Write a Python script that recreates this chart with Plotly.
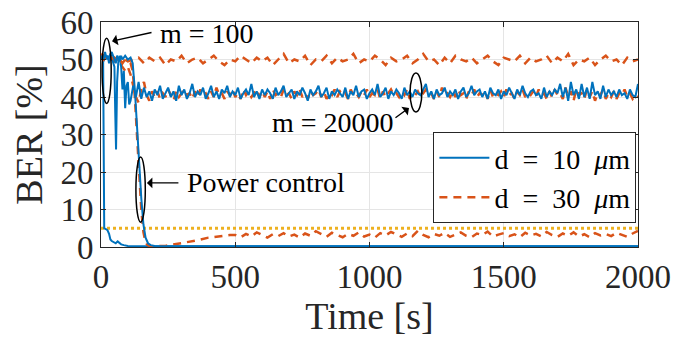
import plotly.graph_objects as go

# ---------------- data ----------------
# d = 10 um, m = 100 (fast drop)
t_b100 = [0, 5, 8, 12, 18, 24, 30, 35, 40, 48, 55, 62, 68, 75, 85, 100, 130, 200, 400, 800, 1200, 1600, 2000]
y_b100 = [50, 51, 49.5, 5, 4.8, 4.5, 3.5, 2.0, 1.6, 1.2, 1.0, 1.5, 1.1, 0.7, 0.5, 0.3, 0.2, 0.2, 0.2, 0.2, 0.2, 0.2, 0.2]

# d = 10 um, m = 20000
t_b2e4_early = [0, 5, 10, 15, 20, 25, 30, 35, 40, 45, 50, 53, 56, 60, 65, 70, 75, 80, 85, 90, 95, 100, 105]
y_b2e4_early = [50, 51, 49.5, 51.5, 50, 51, 49, 51.5, 50.5, 49, 48, 36, 26, 44, 50, 51, 48, 42, 47, 37, 43, 44, 38]
y_b2e4_late = [  # t = 110 ... 2000, step 10
    39, 43, 40, 44, 39.5, 42.5, 40, 41.5, 39, 42,
    40.5, 43, 39.5, 41, 42.5, 40, 41.5, 39, 43, 40.5,
    42, 39.5, 41, 43.5, 40, 41.5, 40.5, 42.5, 39.5, 41,
    43, 40, 41.5, 39.5, 42, 41, 43, 40, 41.5, 40.5,
    42.5, 39.5, 41, 42, 40.5, 43.5, 40, 41.5, 39.5, 42,
    40.5, 42, 41, 39.5, 42.5, 40.5, 41.5, 43, 40, 41,
    42, 39.5, 41.5, 40.5, 42.5, 41, 39, 42, 40.5, 41.5,
    43, 40, 41, 42.5, 39.5, 41.5, 40.5, 42, 41, 40,
    42.5, 39.5, 41.5, 40.5, 43, 40, 41.5, 42, 39.5, 41,
    42, 40.5, 43.5, 40, 41, 42.5, 39.5, 41.5, 40.5, 42,
    41, 39.5, 42.5, 40.5, 41.5, 40, 42, 41, 40.5, 42,
    43.5, 40, 41.5, 39.5, 42, 40.5, 41, 42.5, 40, 41.5,
    40.5, 42, 39.5, 41.5, 42.5, 40, 41, 43, 40.5, 41.5,
    42, 40, 41.5, 39.5, 42.5, 41, 40.5, 42, 39.5, 41.5,
    40.5, 42.5, 41, 39.5, 42, 40.5, 43, 41, 40, 41.5,
    42, 40.5, 41, 39.5, 42.5, 40, 41.5, 40.5, 42, 41,
    43.5, 40, 42.5, 39, 44, 40.5, 42, 39.5, 43.5, 40,
    42.5, 39.5, 44, 40.5, 41.5, 39.5, 43, 40, 42, 40.5,
    41.5, 40, 42, 40.5, 41, 39.5, 42, 40.5, 40, 43.5,
]

# d = 10 um, power control
t_bpc = [0, 5, 10, 15, 20, 25, 30, 35, 40, 45, 50, 55, 60, 65, 70, 75, 80, 90, 100, 110, 118, 126, 134, 142, 150, 158, 166, 175, 185, 200, 300, 600, 1000, 1500, 2000]
y_bpc = [50, 51, 50, 52, 50.5, 51, 50, 51.5, 52, 51, 50, 49, 51, 50, 49.5, 51, 50, 51, 50, 50.5, 49, 42, 32, 22, 13, 6, 2.5, 1.0, 0.5, 0.3, 0.2, 0.2, 0.2, 0.2, 0.2]

# d = 30 um, m = 100 (t = 0 ... 2000 step 20)
y_o100 = [
    51.5, 50.5, 51, 50, 50.5, 49.5, 50, 50.5, 49, 50.5,
    49.5, 50.5, 48.5, 50, 49.5, 51, 49, 50, 50.5, 49,
    50, 51, 49.5, 48.5, 50, 49.5, 51, 50, 49, 50.5,
    49.5, 50.5, 48.5, 50, 51.5, 49, 50, 49.5, 51, 48.5,
    50, 49.5, 51, 49, 50.5, 49.5, 50, 51.5, 49, 50,
    49.5, 51, 50, 48.5, 50.5, 49.5, 50, 51, 49, 50,
    51.5, 49.5, 50, 48.5, 50.5, 49, 51, 50, 49.5, 50.5,
    49, 50, 51, 49.5, 48.5, 50.5, 50, 49.5, 51, 49,
    50.5, 49.5, 50, 51, 49, 50.5, 49.5, 51.5, 48.5, 50,
    49.5, 50.5, 48.5, 50, 51, 49.5, 50, 48.5, 50.5, 49.5,
    50,
]

# d = 30 um, m = 20000
t_o2e4_early = [0, 10, 20, 30, 40, 50, 60, 70, 80, 90, 100, 110, 120, 130, 140, 150, 160, 170, 180, 190, 200]
y_o2e4_early = [51, 50, 51, 50.5, 50, 49.5, 50, 49, 48, 47, 48, 46, 43, 40, 38.5, 42, 44, 40.5, 39, 41.5, 40]
y_o2e4_late = [  # t = 210 ... 2000, step 10
    41.5, 39.5, 41, 40, 42, 40.5, 39, 41.5, 40, 41,
    42, 40.5, 41, 39.5, 41.5, 40, 42, 40.5, 41, 39.5,
    41.5, 40, 42.5, 40.5, 41, 39.5, 41.5, 40.5, 42, 40,
    41, 39.5, 42, 40.5, 41.5, 40, 41, 42, 40, 41.5,
    40, 41.5, 39.5, 42, 40.5, 41, 40, 42, 40.5, 41,
    39.5, 41.5, 40.5, 42, 40, 41, 39.5, 41.5, 40.5, 41,
    42, 40, 41.5, 39.5, 41, 40.5, 42, 40, 41.5, 40.5,
    41, 39.5, 42, 40.5, 41, 40, 41.5, 40.5, 42, 40,
    41, 40.5, 42, 39.5, 41.5, 40, 41, 42, 40.5, 41,
    40, 41.5, 40.5, 42, 39.5, 41, 40.5, 41.5, 40, 41,
    42, 40.5, 41, 39.5, 41.5, 40, 42.5, 40.5, 41, 40,
    41.5, 40, 42, 40.5, 41, 39.5, 41.5, 40.5, 42, 40,
    41, 40.5, 41.5, 39.5, 42, 40, 41, 40.5, 41.5, 40,
    42, 40.5, 41, 39.5, 41.5, 40.5, 42, 40, 41, 40.5,
    41.5, 40, 42, 40.5, 41, 39.5, 41.5, 40, 42, 40.5,
    41, 39.5, 42.5, 40, 41.5, 39, 42, 40.5, 41, 39.5,
    42, 40, 41.5, 39, 41, 40.5, 42, 39.5, 41, 40,
    41.5, 39.5, 41, 40.5, 42, 40, 41, 39.5, 40.5, 40,
]

# d = 30 um, power control
t_opc_early = [0, 10, 20, 30, 40, 50, 60, 70, 80, 90, 100, 110, 118, 126, 134, 142, 150, 158, 165, 172, 180, 200, 240, 280, 320, 360, 400, 440, 480]
y_opc_early = [51, 50, 51, 50, 50.5, 50, 49.5, 50, 49, 50, 49.5, 49, 47, 40, 30, 19, 10, 4, 1.5, 0.6, 0.3, 0.2, 0.3, 0.8, 1.2, 1.8, 2.5, 2.9, 3.2]
y_opc_late = [  # t = 500 ... 2000, step 20
    3.2, 2.6, 3.5, 2.8, 3.9, 3.1, 2.5, 3.4, 2.9, 3.7,
    2.8, 3.3, 2.5, 3.6, 3.0, 4.2, 3.4, 2.7, 3.8, 3.1,
    2.6, 3.5, 3.0, 3.9, 2.8, 3.3, 2.5, 3.7, 3.1, 4.0,
    3.4, 2.7, 3.6, 2.9, 4.3, 3.2, 2.6, 3.5, 3.0, 3.8,
    2.7, 3.4, 3.9, 3.0, 2.6, 3.6, 3.2, 4.1, 2.8, 3.3,
    3.7, 2.9, 3.4, 2.6, 3.8, 3.1, 3.5, 2.8, 4.0, 3.2,
    2.7, 3.6, 3.0, 3.9, 2.8, 3.4, 2.6, 3.7, 3.1, 3.5,
    2.9, 3.8, 3.2, 2.7, 3.6, 4.3,
]

threshold_x = [0, 2000]
threshold_y = [5, 5]

x_ticks = [0, 500, 1000, 1500, 2000]
y_ticks = [0, 10, 20, 30, 40, 50, 60]

legend_names = ["d\u2002=\u200210\u2002<i>μ</i>m", "d\u2002=\u200230\u2002<i>μ</i>m"]

# ---------------- build series ----------------
t_b2e4 = t_b2e4_early + list(range(110, 2001, 10))
y_b2e4 = y_b2e4_early + y_b2e4_late
t_o100 = list(range(0, 2001, 20))
t_o2e4 = t_o2e4_early + list(range(210, 2001, 10))
y_o2e4 = y_o2e4_early + y_o2e4_late
t_opc = t_opc_early + list(range(500, 2001, 20))
y_opc = y_opc_early + y_opc_late

BLUE = "#0072BD"
ORANGE = "#D95319"
YELLOW = "#EDB120"
FONT = "Liberation Serif, Times New Roman, Times, serif"
DARK = "#262626"

fig = go.Figure()

def add_line(x, y, color, dash, width, name=None, show=False, group=None):
    fig.add_trace(go.Scatter(
        x=x, y=y, mode="lines", name=name, showlegend=show, legendgroup=group,
        line=dict(color=color, dash=dash, width=width),
    ))

add_line(threshold_x, threshold_y, YELLOW, "dot", 3)
add_line(t_o100, y_o100, ORANGE, "8px,6px", 2.5, name=legend_names[1], show=True, group="o")
add_line(t_o2e4, y_o2e4, ORANGE, "8px,6px", 2.5, group="o")
add_line(t_b2e4, y_b2e4, BLUE, "solid", 2, group="b")
add_line(t_b100, y_b100, BLUE, "solid", 2, group="b")
add_line(t_opc, y_opc, ORANGE, "8px,6px", 2.5, group="o")
add_line(t_bpc, y_bpc, BLUE, "solid", 2, name=legend_names[0], show=True, group="b")

# ellipses
ell = dict(type="circle", xref="x", yref="y", line=dict(color="black", width=1.5))
fig.add_shape(x0=4, x1=38, y0=38.3, y1=55.7, **ell)
fig.add_shape(x0=1151, x1=1195, y0=36.0, y1=46.4, **ell)
fig.add_shape(x0=130, x1=165, y0=6.6, y1=24.0, **ell)

# arrows
arr = dict(text="", showarrow=True, arrowhead=1, arrowsize=1.3, arrowwidth=1.4,
           arrowcolor="black", axref="pixel", ayref="pixel")
fig.add_annotation(x=41, y=54.9, ax=41, ay=-9, **arr)
fig.add_annotation(x=1147, y=37.1, ax=-15, ay=11, **arr)
fig.add_annotation(x=171, y=17.1, ax=33, ay=0, **arr)

txt = dict(showarrow=False, font=dict(family=FONT, size=28, color="black"), yanchor="middle")
fig.add_annotation(x=212, y=57, text="m = 100", xanchor="left", **txt)
fig.add_annotation(x=1100, y=33.3, text="m = 20000", xanchor="right", **txt)
fig.add_annotation(x=313, y=17.1, text="Power control", xanchor="left", **txt)

axis_common = dict(
    showline=True, linecolor=DARK, linewidth=1, mirror="ticks",
    ticks="inside", ticklen=5, tickcolor=DARK,
    showgrid=True, gridcolor="#E5E5E5", gridwidth=1, zeroline=False,
    tickfont=dict(family=FONT, size=33, color=DARK), automargin=False,
    ticklabeloverflow="allow",
)

fig.update_xaxes(range=[0, 2000], tickvals=x_ticks, ticktext=[str(v) for v in x_ticks],
                 title=dict(text="Time [s]", font=dict(family=FONT, size=38, color=DARK), standoff=4),
                 **axis_common)
fig.update_yaxes(range=[0, 60], tickvals=y_ticks, ticktext=[str(v) for v in y_ticks],
                 title=dict(text="BER [%]", font=dict(family=FONT, size=38, color=DARK), standoff=6),
                 **axis_common)

fig.update_layout(
    width=675, height=347,
    margin=dict(l=101, r=37, t=22, b=100),
    paper_bgcolor="white", plot_bgcolor="white",
    showlegend=True,
    legend=dict(x=0.997, y=0.511, xanchor="right", yanchor="top",
                bgcolor="white", bordercolor=DARK, borderwidth=1,
                font=dict(family=FONT, size=28, color="black"),
                traceorder="reversed", tracegroupgap=0, itemwidth=50),
)

# remove the default 8 px page margin so the figure sits at the window origin
fig.write_html("out.html", config={"displayModeBar": False},
               post_script="document.body.style.margin='0';document.body.style.overflow='hidden';")
